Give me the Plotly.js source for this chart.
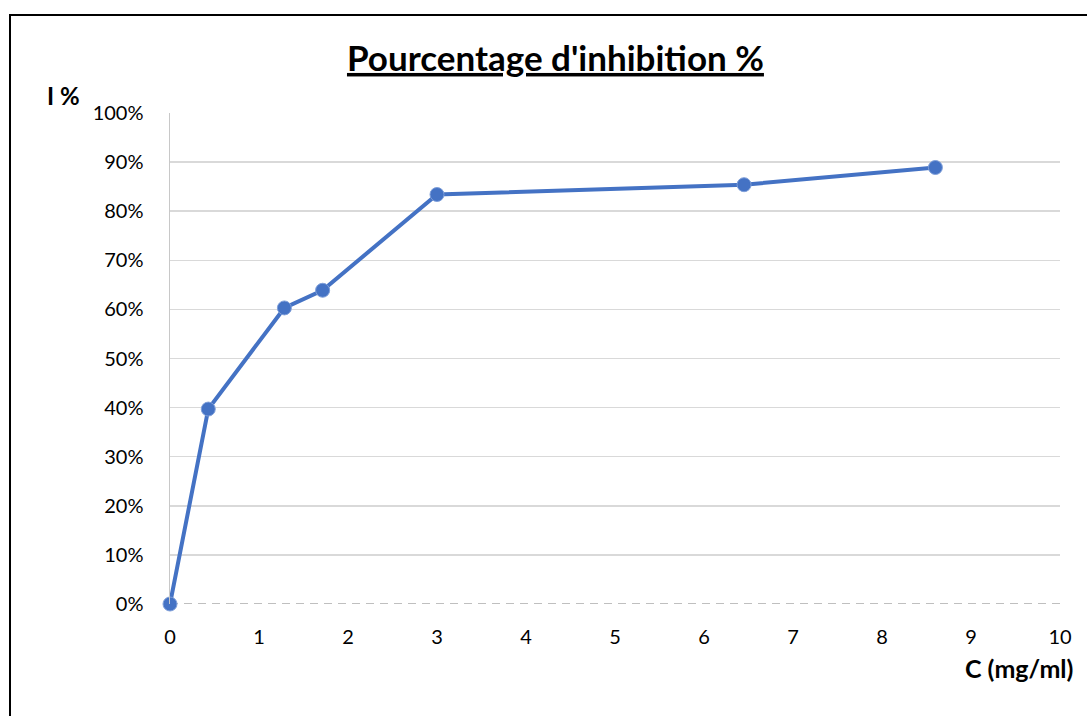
<!DOCTYPE html>
<html>
<head>
<meta charset="utf-8">
<script src="https://cdn.plot.ly/plotly-3.0.1.min.js"></script>
<style>
  html, body { margin: 0; padding: 0; background: #fff; overflow: hidden; }
  #frame { position: absolute; left: 9px; top: 14px; width: 1100px; height: 720px; border-left: 2px solid #000; border-top: 2px solid #000; box-sizing: border-box; pointer-events: none; z-index: 5; }
  #chart { position: absolute; left: 0; top: 0; width: 1087px; height: 716px; }
</style>
</head>
<body>
<div id="chart"></div>
<div id="frame"></div>
<script>
const concentration = [0, 0.43, 1.285, 1.715, 3.0, 6.45, 8.6];
const inhibition = [0, 39.7, 60.3, 63.9, 83.4, 85.4, 88.9];
const yTickVals = [0, 10, 20, 30, 40, 50, 60, 70, 80, 90, 100];
const yTickText = ['0%', '10%', '20%', '30%', '40%', '50%', '60%', '70%', '80%', '90%', '100%'];
const xTickVals = [0, 1, 2, 3, 4, 5, 6, 7, 8, 9, 10];
const chartTitle = "Pourcentage d'inhibition %";
const xTitle = 'C (mg/ml)';
const yTitle = 'I %';

const font = 'Lato, "Open Sans", "Liberation Sans", sans-serif';

const trace = {
  x: concentration,
  y: inhibition,
  type: 'scatter',
  mode: 'lines+markers',
  line: { color: '#4472c4', width: 4 },
  marker: { color: '#4472c4', size: 14, line: { color: '#7f9fd9', width: 1 } },
  cliponaxis: false,
  hoverinfo: 'x+y'
};

const layout = {
  width: 1087,
  height: 716,
  margin: { l: 170, r: 27, t: 113, b: 112 },
  paper_bgcolor: '#ffffff',
  plot_bgcolor: '#ffffff',
  showlegend: false,
  font: { family: font, color: '#000', size: 20 },
  title: {
    text: '<b><u>' + chartTitle + '</u></b>',
    font: { family: font, size: 35, color: '#000' },
    xref: 'container', x: 0.511, xanchor: 'center',
    yref: 'container', y: 0.918, yanchor: 'middle'
  },
  xaxis: {
    range: [0, 10],
    tickvals: xTickVals,
    ticktext: xTickVals.map(String),
    showgrid: false,
    zeroline: false,
    showline: false,
    ticks: '',
    ticklabelstandoff: 19,
    tickfont: { family: font, size: 20, color: '#000' },
    fixedrange: true
  },
  yaxis: {
    range: [0, 100],
    tickvals: yTickVals,
    ticktext: yTickText,
    showgrid: true,
    gridcolor: '#d9d9d9',
    gridwidth: 1.5,
    zeroline: false,
    showline: true,
    linecolor: '#c8c8c8',
    linewidth: 1.5,
    ticks: '',
    ticklabelstandoff: 21,
    tickfont: { family: font, size: 20, color: '#000' },
    fixedrange: true
  },
  shapes: [
    { type: 'line', xref: 'paper', yref: 'y', x0: 0.003, x1: 1, y0: 0, y1: 0, layer: 'below', line: { color: '#ffffff', width: 4 } },
    { type: 'line', xref: 'paper', yref: 'y', x0: 0, x1: 1, y0: 0, y1: 0, layer: 'below', line: { color: '#bfbfbf', width: 2, dash: '8px,6px' } }
  ],
  annotations: [
    { text: '<b>' + yTitle + '</b>', xref: 'paper', yref: 'paper', x: -0.12, y: 1.035, xanchor: 'center', yanchor: 'middle', showarrow: false, font: { family: font, size: 24, color: '#000' } },
    { text: '<b>' + xTitle + '</b>', xref: 'paper', yref: 'paper', x: 1.017, y: -0.13, xanchor: 'right', yanchor: 'middle', showarrow: false, font: { family: font, size: 25, color: '#000' } }
  ]
};

Plotly.newPlot('chart', [trace], layout, { displayModeBar: false, staticPlot: true });
</script>
</body>
</html>
